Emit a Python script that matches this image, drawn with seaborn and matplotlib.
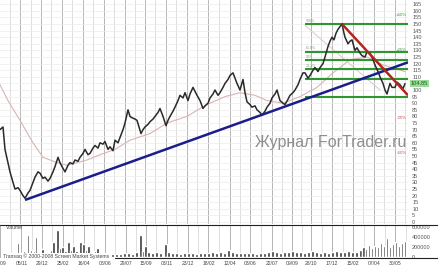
import matplotlib
matplotlib.use("Agg")
import matplotlib.pyplot as plt
import seaborn as sns
import pandas as pd
from matplotlib.lines import Line2D

# ---------------- data (bar index = trading-session index on the chart) ----------------
bar_idx = [0, 3, 5, 8, 10, 13, 15, 18, 20, 23, 25, 28, 30, 33, 35, 38, 40, 43, 45, 48,
           50, 53, 55, 58, 60, 62, 65, 68, 70, 73, 75, 78, 80, 83, 85, 88, 90, 93, 95, 98,
           100, 103, 105, 108, 110, 113, 115, 118, 120, 123, 125, 128, 130, 132, 135, 137, 139, 141, 143, 145,
           148, 150, 153, 155, 158, 160, 163, 166, 168, 170, 173, 175, 178, 180, 183, 185, 188, 190, 193, 195,
           197, 200, 203, 205, 208, 210, 213, 215, 218, 220, 223, 225, 228, 230, 233, 235, 237, 240, 243, 245,
           247, 250, 252, 255, 257, 260, 262, 265, 267, 270, 272, 275, 277, 280, 283, 285, 288, 290, 293, 295,
           298, 300, 303, 305, 308, 310, 313, 315, 318, 320, 323, 325, 328, 330, 332, 334, 336, 338, 340, 342,
           344, 345, 348, 350, 352, 355, 357, 360, 362, 365, 367, 370, 373, 375, 378, 380, 383, 385, 387, 390,
           392, 395, 397, 400, 403, 405]
close = [70, 72, 55, 45, 38, 30, 25, 26, 24, 20, 18, 22, 24, 30, 34, 38, 37, 33, 34, 31,
         33, 38, 42, 49, 45, 42, 38, 43, 45, 44, 47, 46, 49, 52, 55, 51, 52, 56, 58, 56,
         60, 59, 61, 55, 57, 54, 62, 60, 64, 70, 75, 85, 80, 79, 78, 77, 72, 67, 70, 72,
         74, 76, 78, 80, 83, 86, 80, 73, 77, 80, 84, 87, 92, 96, 94, 98, 92, 97, 102, 99,
         96, 92, 86, 88, 90, 94, 97, 100, 96, 98, 102, 105, 108, 111, 113, 109, 105, 100, 108, 98,
         91, 89, 87, 88, 85, 83, 81, 84, 87, 90, 94, 97, 100, 92, 90, 89, 93, 96, 98, 100,
         104, 108, 113, 113, 109, 111, 115, 117, 114, 117, 120, 125, 133, 137, 140, 138, 143, 146, 148, 150,
         143, 140, 135, 137, 138, 130, 132, 128, 126, 125, 129, 128, 123, 119, 114, 110, 105, 100, 97, 105,
         102, 102, 106, 104, 101, 104.85]

ma_idx = [0, 8, 20, 33, 43, 57, 67, 77, 87, 100, 115, 130, 150, 167, 187, 200, 210, 225,
          240, 255, 267, 283, 300, 317, 333, 350, 367, 383, 405]
ma_val = [104, 92, 77, 60, 49, 45, 43, 45, 47, 51, 55, 62, 67, 75, 80, 86, 90, 95,
          98, 96, 92, 90, 95, 102, 113, 123, 125, 119, 114]

vol_idx = [2, 6, 10, 14, 17, 20, 23, 27, 30, 33, 35, 38, 42, 45, 48, 51, 53, 57, 60, 62,
           65, 68, 71, 73, 76, 80, 83, 86, 88, 92, 95, 97, 100, 104, 108, 112, 116, 120, 124, 128,
           132, 136, 140, 143, 145, 148, 152, 156, 160, 165, 168, 172, 176, 180, 184, 188, 192, 196, 200, 204,
           208, 212, 216, 220, 224, 228, 232, 236, 240, 244, 248, 252, 256, 260, 264, 268, 272, 276, 280, 284,
           288, 292, 296, 300, 304, 308, 312, 316, 320, 324, 328, 332, 336, 340, 344, 348, 352, 356, 360, 363,
           366, 369, 372, 375, 378, 381, 384, 387, 390, 393, 396, 399, 402, 405]
volume = [40, 50, 60, 90, 280, 80, 120, 440, 150, 120, 400, 100, 160, 90, 110, 140, 300, 540, 180, 200,
          120, 300, 150, 230, 120, 300, 260, 140, 220, 100, 120, 180, 90, 80, 70, 60, 70, 60, 80, 90,
          70, 100, 440, 120, 220, 110, 90, 100, 80, 260, 100, 80, 90, 70, 80, 90, 80, 70, 80, 90,
          80, 100, 90, 110, 90, 140, 100, 90, 80, 90, 80, 90, 70, 80, 80, 100, 130, 100, 90, 110,
          100, 120, 100, 110, 90, 100, 120, 100, 90, 110, 90, 100, 120, 110, 100, 120, 100, 110, 140, 200,
          160, 250, 180, 220, 200, 280, 220, 380, 200, 260, 300, 220, 280, 320]  # thousands

date_pos = [-1, 20.5, 41, 62, 83, 104, 125, 145, 166, 187, 208, 230, 250, 272, 292, 311, 332, 353, 374, 395]
date_labels = ["05/09", "05/11", "29/12", "25/02", "16/04", "08/06", "29/07", "15/09", "03/11", "23/12",
               "18/02", "12/04", "03/06", "22/07", "09/09", "28/10", "17/12", "15/02", "07/04", "30/05"]

fib_levels = [95, 108, 116, 122.5, 129, 150]
fib_names = ["", "", "38.2%", "50%", "61.8%", "100%"]
fib_start = 305
ext_names = ["+60%", "+25%", "-25%", "-60%"]
ext_levels = [157, 130.5, 79, 52.5]
ext_colors = ["#3c9a3c", "#3c9a3c", "#d05050", "#d05050"]

support_x = [25, 408]
support_y = [16.7, 121]
resist_x = [342, 408]
resist_y = [150, 96]
fan_x = [305, 380]
fan_y = [149, 100]
last_price = 104.85
price_ticks = [v for v in range(0, 170, 5) if v != 105]

price_df = pd.DataFrame({"bar": bar_idx, "close": close})
ma_df = pd.DataFrame({"bar": ma_idx, "ma": ma_val})
vol_df = pd.DataFrame({"bar": vol_idx, "volume": [v * 1000 for v in volume]})

# ---------------- figure ----------------
sns.set_style("white")
plt.rcParams["font.family"] = ["Liberation Sans", "DejaVu Sans"]

W, H = 439, 267
fig = plt.figure(figsize=(W / 100, H / 100), dpi=100)
fig.patch.set_facecolor("white")
ax = fig.add_axes([0, 1 - 224 / H, 408 / W, 224 / H])
axv = fig.add_axes([0, 1 - 258 / H, 408 / W, 33 / H])

XMAX = 408
for a in (ax, axv):
    a.set_xlim(0, XMAX)
    a.set_facecolor("white")
    for s in a.spines.values():
        s.set_visible(False)
    for p in date_pos:
        a.axvline(p, color="#a8a8a8", lw=0.6, zorder=0)
    for p1, p2 in zip(date_pos[:-1], date_pos[1:]):
        a.axvline((p1 + p2) / 2, color="#d2d2d2", lw=0.5, zorder=0)
    a.axvline(date_pos[-1] + 10.5, color="#d2d2d2", lw=0.5, zorder=0)

ax.set_ylim(-1.5, 168.2)
for yv in range(0, 170, 5):
    ax.axhline(yv, color="#ebebeb", lw=0.5, zorder=0)

# fib levels
ax.hlines(fib_levels, fib_start, XMAX, color="#2e962e", lw=1.5, zorder=3)
for lvl, nm in zip(fib_levels, fib_names):
    if nm:
        ax.text(fib_start + 1, lvl + 1.0, nm, fontsize=2.6, color="#8a9a8a", va="bottom", ha="left", zorder=4)
for nm, lv, c in zip(ext_names, ext_levels, ext_colors):
    ax.text(407, lv, nm, fontsize=3.2, color=c, ha="right", va="center", zorder=4)

# moving average
sns.lineplot(data=ma_df, x="bar", y="ma", ax=ax, color="#d9b4b4", lw=0.8, zorder=2)
ax.plot(fan_x, fan_y, color="#dcc8c8", lw=0.7, zorder=2)
# price
sns.lineplot(data=price_df, x="bar", y="close", ax=ax, color="#2a2a2a", lw=1.1, zorder=3)
# trend lines
ax.plot(support_x, support_y, color="#1c1c8a", lw=1.8, zorder=5, solid_capstyle="butt")
ax.plot(resist_x, resist_y, color="#b3261e", lw=1.8, zorder=5, solid_capstyle="butt")

ax.yaxis.tick_right()
ax.set_yticks(price_ticks)
ax.tick_params(axis="y", labelsize=4, colors="#555555", length=0, pad=3)
ax.set_xticks([])
ax.set_xlabel("")
ax.set_ylabel("")

ax.text(XMAX + 3, last_price, f"{last_price:.2f}", fontsize=4, color="#1f5a1f", va="center", ha="left",
        bbox=dict(facecolor="#98dc98", edgecolor="none", pad=0.6), zorder=6, clip_on=False)

fig.text(255 / W, 1 - 147 / H, "Журнал ForTrader.ru", fontsize=11.5, color="#8e8e8e",
         ha="left", va="baseline")

# volume
axv.bar(vol_df["bar"], vol_df["volume"], width=2.8, color="#3a3a3a", zorder=3)
axv.set_ylim(-20000, 640000)
axv.yaxis.tick_right()
axv.set_yticks([0, 200000, 400000, 600000])
axv.tick_params(axis="y", labelsize=4, colors="#555555", length=0, pad=3)
axv.set_xticks(date_pos)
axv.set_xticklabels(date_labels)
axv.tick_params(axis="x", labelsize=3.6, colors="#444444", length=0, pad=2)
axv.set_xlabel("")
axv.set_ylabel("")
axv.text(5, 590000, "Volume", fontsize=3.6, color="#444444", va="center", ha="left", zorder=6)
axv.text(2, 10000, "Transaq © 2000-2008 Screen Market Systems", fontsize=3.7, color="#444444",
         va="center", ha="left", zorder=6, bbox=dict(facecolor="white", edgecolor="none", pad=0.4))

fig.add_artist(Line2D([0, 1], [1 - 224.5 / H, 1 - 224.5 / H], color="#222222", lw=0.8))
fig.add_artist(Line2D([115 / W, 1], [1 - 258 / H, 1 - 258 / H], color="#222222", lw=0.8))

fig.savefig("out.png", dpi=100, facecolor="white")
